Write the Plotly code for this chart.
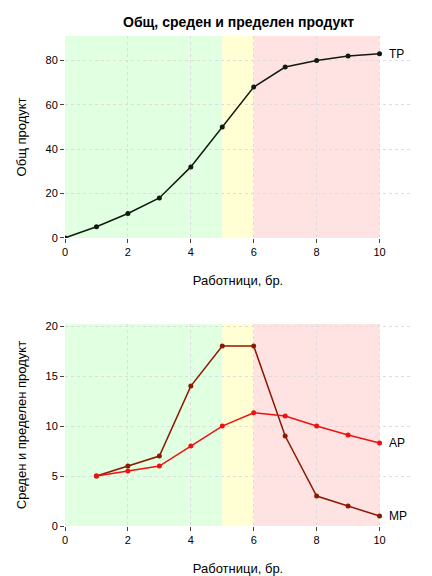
import plotly.graph_objects as go
from plotly.subplots import make_subplots

x_tp = [0,1,2,3,4,5,6,7,8,9,10]
tp = [0,5,11,18,32,50,68,77,80,82,83]
x_m = [1,2,3,4,5,6,7,8,9,10]
mp = [5,6,7,14,18,18,9,3,2,1]
ap = [5,5.5,6,8,10,11.33,11,10,9.11,8.3]

fig = make_subplots(rows=2, cols=1)
fig.update_layout(
    width=432, height=576, margin=dict(l=57, r=29, t=28, b=58),
    plot_bgcolor="white", paper_bgcolor="white", showlegend=False,
    font=dict(family="Liberation Sans", size=11, color="black"),
    xaxis=dict(domain=[0,1], anchor="y"), yaxis=dict(domain=[0.588,1], anchor="x"),
    xaxis2=dict(domain=[0,1], anchor="y2"), yaxis2=dict(domain=[0,0.412], anchor="x2"),
)
zones = [(0,5,"rgba(200,255,200,0.55)"),(5,6,"rgba(255,255,200,0.8)"),(6,10,"rgba(255,200,200,0.5)")]
shapes = []
for xr, yr in (("x","y domain"),("x2","y2 domain")):
    for a,b,c in zones:
        shapes.append(dict(type="rect", xref=xr, yref=yr, x0=a, x1=b, y0=0, y1=1, fillcolor=c, line_width=0, layer="below"))
fig.update_layout(shapes=shapes)

fig.add_trace(go.Scatter(x=x_tp, y=tp, mode="lines+markers", line=dict(color="#111a11", width=1.5), marker=dict(size=5, color="#111a11")), row=1, col=1)
fig.add_trace(go.Scatter(x=x_m, y=mp, mode="lines+markers", line=dict(color="#8b1a00", width=1.5), marker=dict(size=5, color="#8b1a00")), row=2, col=1)
fig.add_trace(go.Scatter(x=x_m, y=ap, mode="lines+markers", line=dict(color="#ee1111", width=1.5), marker=dict(size=5, color="#ee1111")), row=2, col=1)

ax = dict(range=[0,11], tickvals=[0,2,4,6,8,10], ticks="outside", ticklen=4, showgrid=True,
          gridcolor="#dddddd", griddash="dot", zeroline=False, showline=False, automargin=False,
          title=dict(text="Работници, бр.", standoff=18))
fig.update_xaxes(**ax)
fig.update_yaxes(ticks="outside", ticklen=4, showgrid=True, gridcolor="#dddddd", griddash="dot",
                 zeroline=False, showline=False, automargin=False)
fig.update_yaxes(range=[0,91], tickvals=[0,20,40,60,80], title_text="Общ продукт", row=1, col=1)
fig.update_yaxes(range=[0,20.2], tickvals=[0,5,10,15,20], title_text="Среден и пределен продукт", row=2, col=1)

fig.add_annotation(x=10.25, y=tp[-1], text="TP", showarrow=False, xanchor="left", font=dict(size=12), xref="x", yref="y")
fig.add_annotation(x=10.25, y=ap[-1], text="AP", showarrow=False, xanchor="left", font=dict(size=12), xref="x2", yref="y2")
fig.add_annotation(x=10.25, y=mp[-1], text="MP", showarrow=False, xanchor="left", font=dict(size=12), xref="x2", yref="y2")
fig.add_annotation(x=0.5, y=1, xref="paper", yref="paper", yanchor="bottom", yshift=4, showarrow=False,
                   text="<b>Общ, среден и пределен продукт</b>", font=dict(size=14))
fig.write_html("out.html")
